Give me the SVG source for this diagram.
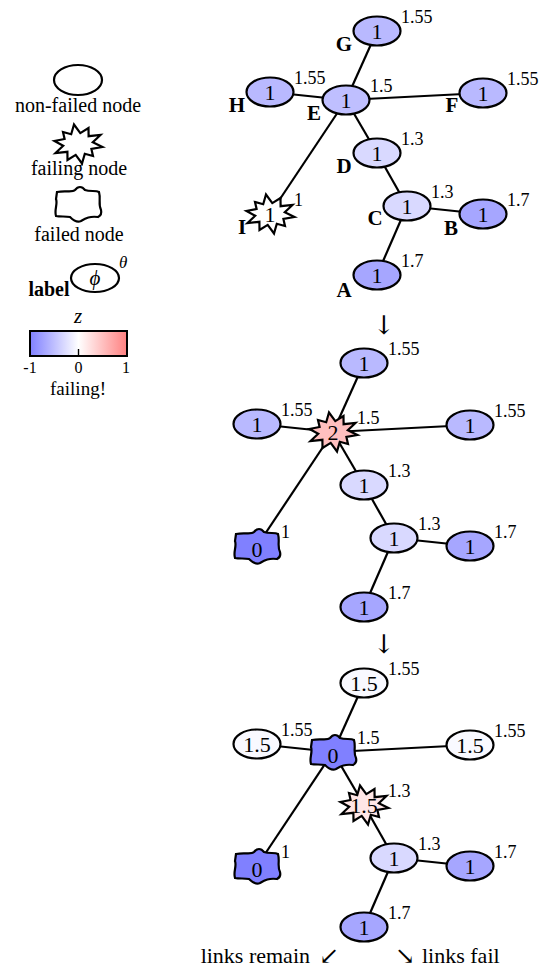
<svg xmlns="http://www.w3.org/2000/svg" width="541" height="970" viewBox="0 0 541 970" font-family="'Liberation Serif', 'DejaVu Serif', serif">
<style>
text{font-family:"Liberation Serif","DejaVu Serif",serif;fill:#000}
.edge{stroke:#000;stroke-width:2.2;fill:none}
.nd{stroke:#000;stroke-width:2.2}
.v{font-size:22px;text-anchor:middle}
.th{font-size:18px}
.nm{font-size:21px;font-weight:bold;text-anchor:middle}
.lg{font-size:20px;text-anchor:middle}
.arr{font-family:"DejaVu Serif","DejaVu Sans",serif;font-weight:200;font-size:26px;text-anchor:middle;fill:#000}
.c0{fill:#ffffff}.c1{fill:#b9b9ff}.c2{fill:#bfbfff}.c3{fill:#d9d9ff}.c4{fill:#a6a6ff}
.cf{fill:#8080ff}.cs{fill:#ffbfbf}.cw{fill:#f9f9ff}.cp{fill:#ffe6e6}
</style>
<defs>
<path id="star" d="M24.5,3 L13.4,5 L15,12 L6.8,9.8 L4,19.5 L-2.3,10.9 L-10.5,16 L-10.6,7.8 L-22.5,9 L-14.8,1.7 L-23.5,-3 L-13.4,-5 L-15,-12 L-6.8,-9.8 L-4,-19.5 L2.3,-10.9 L10.5,-16 L10.6,-7.8 L22.5,-9 L14.8,-1.7 Z"/>
<path id="fail" d="M-21,-12 C-12,-14 -6,-11 -3,-14 C0,-18 4,-18 7,-14 C12,-12 18,-14 21,-12 C23,-5 20,0 23,6 C24,10 22,12 20,13 C12,12 8,14 3,17 C-1,19 -4,17 -8,13 C-12,12 -18,13 -22,12 C-24,6 -20,0 -22,-5 Z"/>
<linearGradient id="zgrad" x1="0" y1="0" x2="1" y2="0">
<stop offset="0" stop-color="#8080ff"/>
<stop offset="0.5" stop-color="#ffffff"/>
<stop offset="1" stop-color="#ff8080"/>
</linearGradient>
</defs>

<!-- Legend -->
<g id="legend">
<g id="leg-nonfailed">
<ellipse class="nd c0" cx="78" cy="80" rx="24" ry="15"/>
<text class="lg" x="78" y="112">non-failed node</text>
</g>
<g id="leg-failing">
<use href="#star" x="78" y="144" class="nd c0"/>
<text class="lg" x="79" y="175">failing node</text>
</g>
<g id="leg-failed">
<use href="#fail" x="78" y="204" class="nd c0"/>
<text class="lg" x="79" y="241">failed node</text>
</g>
<g id="leg-label">
<ellipse class="nd c0" cx="95" cy="278" rx="24" ry="14"/>
<text x="95" y="285" style="font-size:21px;font-style:italic;text-anchor:middle">ϕ</text>
<text x="119" y="268" style="font-size:17px;font-style:italic">θ</text>
<text x="49" y="296" style="font-size:20px;font-weight:bold;text-anchor:middle">label</text>
</g>
<g id="leg-colorbar">
<text x="78" y="323" style="font-size:21px;font-style:italic;text-anchor:middle">z</text>
<rect x="30" y="331" width="97" height="25" fill="url(#zgrad)" stroke="#000" stroke-width="2"/>
<line x1="78.5" y1="356" x2="78.5" y2="349" stroke="#000" stroke-width="1.4"/>
<text x="30" y="373" style="font-size:16px;text-anchor:middle">-1</text>
<text x="78.5" y="373" style="font-size:16px;text-anchor:middle">0</text>
<text x="126" y="373" style="font-size:16px;text-anchor:middle">1</text>
<text x="78" y="395" style="font-size:19px;text-anchor:middle">failing!</text>
</g>
</g>

<!-- Graph 1 -->
<g id="graph1">
<g id="g1-edges">
<line class="edge" x1="377" y1="31" x2="346" y2="100"/>
<line class="edge" x1="270" y1="92" x2="346" y2="100"/>
<line class="edge" x1="483" y1="93" x2="346" y2="100"/>
<line class="edge" x1="377" y1="153" x2="346" y2="100"/>
<line class="edge" x1="270" y1="214" x2="346" y2="100"/>
<line class="edge" x1="377" y1="153" x2="407" y2="206"/>
<line class="edge" x1="483" y1="214" x2="407" y2="206"/>
<line class="edge" x1="377" y1="275" x2="407" y2="206"/>
</g>
<g id="g1-G"><ellipse class="nd c1" cx="377" cy="31" rx="23.5" ry="14.5"/><text class="v" x="377" y="39">1</text><text class="th" x="401" y="23">1.55</text><text class="nm" x="344" y="51">G</text></g>
<g id="g1-H"><ellipse class="nd c1" cx="270" cy="92" rx="23.5" ry="14.5"/><text class="v" x="270" y="100">1</text><text class="th" x="294" y="84">1.55</text><text class="nm" x="237" y="112">H</text></g>
<g id="g1-E"><ellipse class="nd c2" cx="346" cy="100" rx="23.5" ry="14.5"/><text class="v" x="346" y="108">1</text><text class="th" x="370" y="92">1.5</text><text class="nm" x="314" y="120">E</text></g>
<g id="g1-F"><ellipse class="nd c1" cx="483" cy="93" rx="23.5" ry="14.5"/><text class="v" x="483" y="101">1</text><text class="th" x="507" y="85">1.55</text><text class="nm" x="452" y="112">F</text></g>
<g id="g1-D"><ellipse class="nd c3" cx="377" cy="153" rx="23.5" ry="14.5"/><text class="v" x="377" y="161">1</text><text class="th" x="401" y="145">1.3</text><text class="nm" x="344" y="173">D</text></g>
<g id="g1-C"><ellipse class="nd c3" cx="407" cy="206" rx="23.5" ry="14.5"/><text class="v" x="407" y="214">1</text><text class="th" x="431" y="198">1.3</text><text class="nm" x="375" y="225">C</text></g>
<g id="g1-B"><ellipse class="nd c4" cx="483" cy="214" rx="23.5" ry="14.5"/><text class="v" x="483" y="222">1</text><text class="th" x="507" y="206">1.7</text><text class="nm" x="451" y="235">B</text></g>
<g id="g1-A"><ellipse class="nd c4" cx="377" cy="275" rx="23.5" ry="14.5"/><text class="v" x="377" y="283">1</text><text class="th" x="401" y="267">1.7</text><text class="nm" x="344" y="297">A</text></g>
<g id="g1-I"><use href="#star" x="270" y="214" class="nd c0"/><text class="v" x="270" y="222">1</text><text class="th" x="294" y="206">1</text><text class="nm" x="242" y="234">I</text></g>
</g>

<g id="step-arrows">
<text class="arr" x="384" y="334">↓</text>
<text class="arr" x="384" y="653">↓</text>
</g>

<!-- Graph 2 -->
<g id="graph2" transform="translate(-13,332)">
<g id="g2-edges">
<line class="edge" x1="377" y1="31" x2="346" y2="100"/>
<line class="edge" x1="270" y1="92" x2="346" y2="100"/>
<line class="edge" x1="483" y1="93" x2="346" y2="100"/>
<line class="edge" x1="377" y1="153" x2="346" y2="100"/>
<line class="edge" x1="270" y1="214" x2="346" y2="100"/>
<line class="edge" x1="377" y1="153" x2="407" y2="206"/>
<line class="edge" x1="483" y1="214" x2="407" y2="206"/>
<line class="edge" x1="377" y1="275" x2="407" y2="206"/>
</g>
<g id="g2-G"><ellipse class="nd c1" cx="377" cy="31" rx="23.5" ry="14.5"/><text class="v" x="377" y="39">1</text><text class="th" x="401" y="23">1.55</text></g>
<g id="g2-H"><ellipse class="nd c1" cx="270" cy="92" rx="23.5" ry="14.5"/><text class="v" x="270" y="100">1</text><text class="th" x="294" y="84">1.55</text></g>
<g id="g2-E"><use href="#star" x="346" y="100" class="nd cs"/><text class="v" x="346" y="108">2</text><text class="th" x="370" y="92">1.5</text></g>
<g id="g2-F"><ellipse class="nd c1" cx="483" cy="93" rx="23.5" ry="14.5"/><text class="v" x="483" y="101">1</text><text class="th" x="507" y="85">1.55</text></g>
<g id="g2-D"><ellipse class="nd c3" cx="377" cy="153" rx="23.5" ry="14.5"/><text class="v" x="377" y="161">1</text><text class="th" x="401" y="145">1.3</text></g>
<g id="g2-C"><ellipse class="nd c3" cx="407" cy="206" rx="23.5" ry="14.5"/><text class="v" x="407" y="214">1</text><text class="th" x="431" y="198">1.3</text></g>
<g id="g2-B"><ellipse class="nd c4" cx="483" cy="214" rx="23.5" ry="14.5"/><text class="v" x="483" y="222">1</text><text class="th" x="507" y="206">1.7</text></g>
<g id="g2-A"><ellipse class="nd c4" cx="377" cy="275" rx="23.5" ry="14.5"/><text class="v" x="377" y="283">1</text><text class="th" x="401" y="267">1.7</text></g>
<g id="g2-I"><use href="#fail" x="270" y="214" class="nd cf"/><text class="v" x="270" y="225">0</text><text class="th" x="294" y="206">1</text></g>
</g>

<!-- Graph 3 -->
<g id="graph3" transform="translate(-13,652)">
<g id="g3-edges">
<line class="edge" x1="377" y1="31" x2="346" y2="100"/>
<line class="edge" x1="270" y1="92" x2="346" y2="100"/>
<line class="edge" x1="483" y1="93" x2="346" y2="100"/>
<line class="edge" x1="377" y1="153" x2="346" y2="100"/>
<line class="edge" x1="270" y1="214" x2="346" y2="100"/>
<line class="edge" x1="377" y1="153" x2="407" y2="206"/>
<line class="edge" x1="483" y1="214" x2="407" y2="206"/>
<line class="edge" x1="377" y1="275" x2="407" y2="206"/>
</g>
<g id="g3-G"><ellipse class="nd cw" cx="377" cy="31" rx="23.5" ry="14.5"/><text class="v" x="377" y="39">1.5</text><text class="th" x="401" y="23">1.55</text></g>
<g id="g3-H"><ellipse class="nd cw" cx="270" cy="92" rx="23.5" ry="14.5"/><text class="v" x="270" y="100">1.5</text><text class="th" x="294" y="84">1.55</text></g>
<g id="g3-E"><use href="#fail" x="346" y="100" class="nd cf"/><text class="v" x="346" y="111">0</text><text class="th" x="370" y="92">1.5</text></g>
<g id="g3-F"><ellipse class="nd cw" cx="483" cy="93" rx="23.5" ry="14.5"/><text class="v" x="483" y="101">1.5</text><text class="th" x="507" y="85">1.55</text></g>
<g id="g3-D"><use href="#star" x="377" y="153" class="nd cp"/><text class="v" x="377" y="161">1.5</text><text class="th" x="401" y="145">1.3</text></g>
<g id="g3-C"><ellipse class="nd c3" cx="407" cy="206" rx="23.5" ry="14.5"/><text class="v" x="407" y="214">1</text><text class="th" x="431" y="198">1.3</text></g>
<g id="g3-B"><ellipse class="nd c4" cx="483" cy="214" rx="23.5" ry="14.5"/><text class="v" x="483" y="222">1</text><text class="th" x="507" y="206">1.7</text></g>
<g id="g3-A"><ellipse class="nd c4" cx="377" cy="275" rx="23.5" ry="14.5"/><text class="v" x="377" y="283">1</text><text class="th" x="401" y="267">1.7</text></g>
<g id="g3-I"><use href="#fail" x="270" y="214" class="nd cf"/><text class="v" x="270" y="225">0</text><text class="th" x="294" y="206">1</text></g>
</g>

<g id="outcomes">
<text x="310" y="963" style="font-size:22px;text-anchor:end">links remain</text>
<text class="arr" x="329" y="964" style="font-size:24px">↙</text>
<text class="arr" x="405" y="964" style="font-size:24px">↘</text>
<text x="422" y="963" style="font-size:22px">links fail</text>
</g>
</svg>
